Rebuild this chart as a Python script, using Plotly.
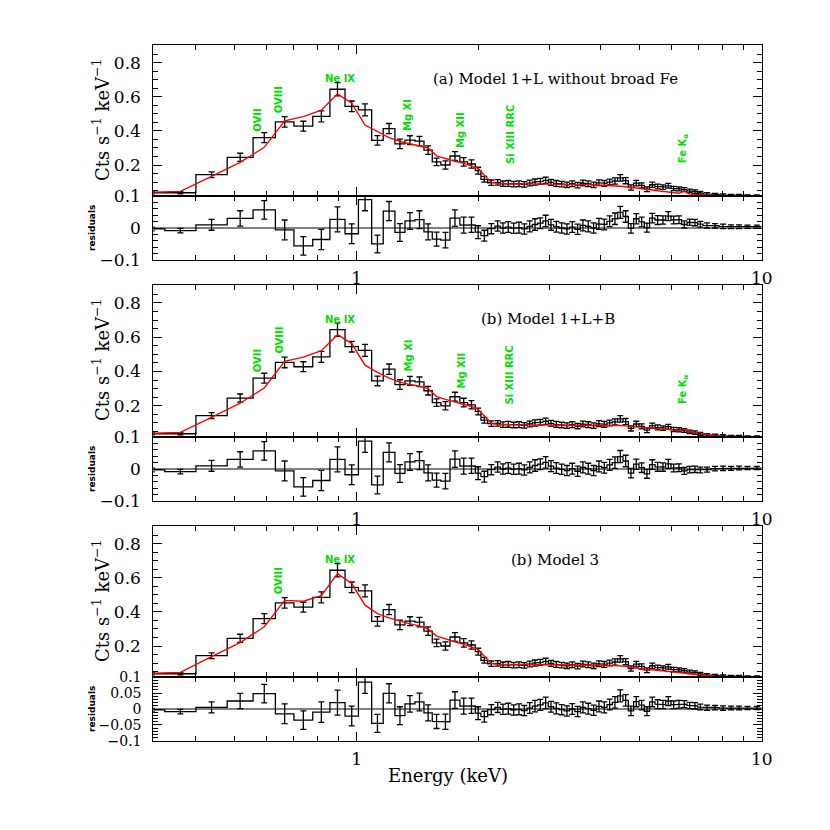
import numpy as np
import plotly.graph_objects as go

# bin edges in keV
edges = [0.29, 0.336, 0.401, 0.479, 0.555, 0.630, 0.700, 0.779, 0.859, 0.936, 1.01,
         1.089, 1.163, 1.243, 1.316, 1.393, 1.466, 1.537, 1.614, 1.700, 1.798, 1.879,
         1.963, 2.027, 2.106, 2.195,
         2.263, 2.332, 2.404, 2.479, 2.554, 2.634, 2.715, 2.797, 2.884, 2.973,
         3.064, 3.159, 3.256, 3.355, 3.459, 3.565, 3.674, 3.788, 3.905, 4.024,
         4.150, 4.277, 4.408, 4.545, 4.685, 4.828, 4.977, 5.130, 5.287, 5.452,
         5.619, 5.791, 5.971, 6.154, 6.342, 6.540, 6.741, 6.947, 7.164, 7.497,
         7.846, 8.210, 8.593, 8.991, 9.463, 10.0]

# observed spectrum (Cts s^-1 keV^-1)
counts = [0.037, 0.037, 0.143, 0.245, 0.361, 0.453, 0.428, 0.486, 0.645, 0.545,
          0.524, 0.345, 0.414, 0.324, 0.346, 0.340, 0.288, 0.219, 0.200, 0.253,
          0.219, 0.206, 0.167, 0.116, 0.096,
          0.098, 0.090, 0.092, 0.088, 0.090, 0.086, 0.094, 0.100, 0.104, 0.110,
          0.098, 0.092, 0.088, 0.084, 0.090, 0.082, 0.094, 0.090, 0.084, 0.096,
          0.092, 0.100, 0.106, 0.124, 0.108, 0.068, 0.094, 0.080, 0.058, 0.084,
          0.074, 0.070, 0.078, 0.062, 0.060, 0.056, 0.048, 0.044, 0.036, 0.030,
          0.027, 0.024, 0.022, 0.021, 0.020, 0.019]

errors = [0.006, 0.007, 0.017, 0.024, 0.029, 0.031, 0.029, 0.032, 0.039, 0.031,
          0.035, 0.028, 0.030, 0.028, 0.026, 0.028, 0.025, 0.022, 0.024, 0.026,
          0.025, 0.024, 0.020, 0.017, 0.016,
          0.016, 0.016, 0.017, 0.016, 0.017, 0.016, 0.017, 0.018, 0.017, 0.018,
          0.017, 0.017, 0.016, 0.016, 0.017, 0.016, 0.017, 0.017, 0.016, 0.017,
          0.017, 0.017, 0.018, 0.019, 0.018, 0.015, 0.016, 0.015, 0.014, 0.015,
          0.014, 0.013, 0.014, 0.012, 0.012, 0.011, 0.010, 0.010, 0.009, 0.008,
          0.007, 0.007, 0.006, 0.006, 0.005, 0.005]

# folded models, one per panel
model_a = [0.040, 0.045, 0.133, 0.215, 0.304, 0.459, 0.484, 0.522, 0.618, 0.563,
           0.435, 0.395, 0.361, 0.338, 0.324, 0.314, 0.300, 0.254, 0.238, 0.222,
           0.210, 0.196, 0.180, 0.140, 0.098,
           0.092, 0.090, 0.089, 0.089, 0.089, 0.089, 0.089, 0.089, 0.089, 0.088,
           0.088, 0.088, 0.088, 0.087, 0.087, 0.086, 0.086, 0.085, 0.084, 0.083,
           0.081, 0.079, 0.077, 0.075, 0.072, 0.069, 0.065, 0.061, 0.057, 0.053,
           0.049, 0.045, 0.041, 0.037, 0.034, 0.045, 0.030, 0.027, 0.024, 0.022,
           0.020, 0.019, 0.018, 0.017, 0.016, 0.015]

model_b = [0.040, 0.045, 0.133, 0.215, 0.304, 0.459, 0.484, 0.522, 0.615, 0.563,
           0.437, 0.395, 0.362, 0.338, 0.324, 0.314, 0.300, 0.254, 0.238, 0.222,
           0.210, 0.196, 0.180, 0.140, 0.098,
           0.092, 0.090, 0.089, 0.089, 0.089, 0.089, 0.089, 0.089, 0.089, 0.089,
           0.089, 0.089, 0.089, 0.089, 0.089, 0.089, 0.089, 0.089, 0.089, 0.088,
           0.088, 0.087, 0.086, 0.085, 0.083, 0.081, 0.079, 0.076, 0.073, 0.070,
           0.067, 0.064, 0.062, 0.059, 0.056, 0.062, 0.050, 0.045, 0.039, 0.032,
           0.026, 0.022, 0.020, 0.018, 0.017, 0.016]

model_c = [0.040, 0.045, 0.138, 0.220, 0.313, 0.468, 0.463, 0.496, 0.625, 0.567,
           0.440, 0.390, 0.365, 0.345, 0.330, 0.318, 0.300, 0.258, 0.240, 0.225,
           0.210, 0.196, 0.180, 0.140, 0.098,
           0.093, 0.091, 0.091, 0.091, 0.091, 0.091, 0.091, 0.091, 0.091, 0.091,
           0.091, 0.090, 0.090, 0.090, 0.090, 0.090, 0.089, 0.089, 0.088, 0.088,
           0.087, 0.086, 0.085, 0.083, 0.081, 0.074, 0.071, 0.068, 0.065, 0.062,
           0.059, 0.056, 0.053, 0.049, 0.045, 0.041, 0.037, 0.034, 0.030, 0.026,
           0.023, 0.021, 0.019, 0.018, 0.017, 0.016]

panel_labels = ["(a) Model 1+L without broad Fe", "(b) Model 1+L+B", "(b) Model 3"]
panel_label_x = [555, 548, 555]

# emission line ids: name, energy (keV), height on the spectrum axis
line_names = ["OVII", "OVIII", "Ne IX", "Mg XI", "Mg XII", "Si XIII RRC", "Fe K<sub>α</sub>"]
line_energy = [0.57, 0.644, 0.909, 1.339, 1.81, 2.39, 6.40]
line_height = [0.465, 0.582, 0.706, 0.494, 0.406, 0.382, 0.294]
panel_lines = [[0, 1, 2, 3, 4, 5, 6], [0, 1, 2, 3, 4, 5, 6], [1, 2]]

# page has an 8px body margin; figure is sized to fit inside the window
PAD = 8
W = H = 830 - 2 * PAD


def fx(px):
    return (px - PAD) / W


def fy(py):
    return 1 - (py - PAD) / H


x_dom = [fx(153.3), fx(761.7)]
# (top, middle, bottom) pixel rows of each panel in the reference
rows = [(45, 196, 260), (285, 437, 501), (526, 677, 741)]

edges = np.array(edges)
counts = np.array(counts)
errors = np.array(errors)
centres = np.sqrt(edges[:-1] * edges[1:])


def steps(vals):
    xs, ys = [], []
    for i, v in enumerate(vals):
        xs += [edges[i], edges[i + 1]]
        ys += [v, v]
    return xs, ys


def note(text, x, y, size, family="DejaVu Serif", angle=0, color="black", xref="paper", yref="paper"):
    return dict(text=text, x=x, y=y, xref=xref, yref=yref, textangle=angle,
                xanchor="center", yanchor="middle", showarrow=False,
                font=dict(family=family, size=size, color=color))


fig = go.Figure()
layout = {}
annotations = []
tickfont = dict(family="DejaVu Serif", size=17, color="black")
minor_x = [0.4, 0.5, 0.6, 0.7, 0.8, 0.9, 2, 3, 4, 5, 6, 7, 8, 9]

for p, model in enumerate([model_a, model_b, model_c]):
    model = np.array(model)
    resid = counts - model
    top, mid, bot = rows[p]
    ns, nr = 2 * p + 1, 2 * p + 2
    xs_s, xs_r = f"x{ns}", f"x{nr}"
    ys_s, ys_r = f"y{ns}", f"y{nr}"

    sx, sy = steps(counts)
    fig.add_trace(go.Scatter(x=sx, y=sy, mode="lines", line=dict(color="black", width=1.3),
                             xaxis=xs_s, yaxis=ys_s, showlegend=False, hoverinfo="skip"))
    fig.add_trace(go.Scatter(x=centres, y=counts, mode="markers", marker=dict(size=1, color="black"),
                             error_y=dict(array=errors, color="black", thickness=1.3, width=3),
                             xaxis=xs_s, yaxis=ys_s, showlegend=False))
    fig.add_trace(go.Scatter(x=centres, y=model, mode="lines", line=dict(color="#ff0000", width=1.4),
                             xaxis=xs_s, yaxis=ys_s, showlegend=False))

    rx, ry = steps(resid)
    fig.add_trace(go.Scatter(x=[edges[0], edges[-1]], y=[0, 0], mode="lines",
                             line=dict(color="black", width=1), xaxis=xs_r, yaxis=ys_r,
                             showlegend=False, hoverinfo="skip"))
    fig.add_trace(go.Scatter(x=rx, y=ry, mode="lines", line=dict(color="black", width=1.3),
                             xaxis=xs_r, yaxis=ys_r, showlegend=False, hoverinfo="skip"))
    fig.add_trace(go.Scatter(x=centres, y=resid, mode="markers", marker=dict(size=1, color="black"),
                             error_y=dict(array=errors, color="black", thickness=1.3, width=3),
                             xaxis=xs_r, yaxis=ys_r, showlegend=False))

    for n, yname, show in [(ns, ys_s, False), (nr, ys_r, True)]:
        layout[f"xaxis{n}"] = dict(
            type="log", range=[np.log10(0.3147), 1.0], domain=x_dom, anchor=yname,
            showline=True, linecolor="black", linewidth=1, mirror="allticks",
            ticks="inside", ticklen=9, tickcolor="black", tickwidth=1,
            tickvals=[1, 10], ticktext=["1", "10"], showticklabels=show,
            tickfont=tickfont, ticklabelstandoff=3, automargin=False,
            minor=dict(tickvals=minor_x, ticks="inside", ticklen=5, tickcolor="black"),
            showgrid=False, zeroline=False,
        )

    layout[f"yaxis{ns}"] = dict(
        range=[0.018, 0.905], domain=[fy(mid), fy(top)], anchor=xs_s,
        showline=True, linecolor="black", linewidth=1, mirror="allticks",
        ticks="inside", ticklen=9, tickcolor="black", automargin=False,
        tickvals=[0.2, 0.4, 0.6, 0.8], tickfont=tickfont, ticklabelstandoff=8,
        minor=dict(dtick=0.05, tick0=0, ticks="inside", ticklen=5, tickcolor="black"),
        showgrid=False, zeroline=False,
    )
    if p < 2:
        rv, rt, rminor, rfont = [-0.1, 0, 0.1], ["−0.1", "0", "0.1"], 0.02, tickfont
    else:
        rv = [-0.1, -0.05, 0, 0.05, 0.1]
        rt = ["−0.1", "−0.05", "0", "0.05", "0.1"]
        rminor, rfont = 0.01, dict(family="DejaVu Serif", size=14, color="black")
    layout[f"yaxis{nr}"] = dict(
        range=[-0.1002, 0.1002], domain=[fy(bot), fy(mid)], anchor=xs_r,
        showline=True, linecolor="black", linewidth=1, mirror="allticks",
        ticks="inside", ticklen=9, tickcolor="black", automargin=False,
        tickvals=rv, ticktext=rt, tickfont=rfont, ticklabelstandoff=8,
        minor=dict(dtick=rminor, tick0=0, ticks="inside", ticklen=5, tickcolor="black"),
        showgrid=False, zeroline=False,
    )

    # panel title, axis titles
    annotations.append(note(panel_labels[p], fx(panel_label_x[p]), fy(top + 34), 15))
    annotations.append(note("Cts s<sup>−1</sup> keV<sup>−1</sup>", fx(101),
                            fy(top + 75), 18, angle=-90))
    annotations.append(note("<b>residuals</b>", fx(92), fy((mid + bot) / 2), 9,
                            family="DejaVu Sans", angle=-90))
    for k in panel_lines[p]:
        horiz = line_names[k] == "Ne IX"
        annotations.append(note(f"<b>{line_names[k]}</b>", np.log10(line_energy[k]),
                                line_height[k], 10, family="DejaVu Sans",
                                angle=0 if horiz else -90, color="#00e000",
                                xref=xs_s, yref=ys_s))

annotations.append(note("Energy (keV)", fx(448), fy(775), 18))

fig.update_layout(
    width=W, height=H, margin=dict(l=0, r=0, t=0, b=0, autoexpand=False),
    paper_bgcolor="white", plot_bgcolor="white",
    annotations=annotations, **layout,
)

fig.write_html("out.html")
